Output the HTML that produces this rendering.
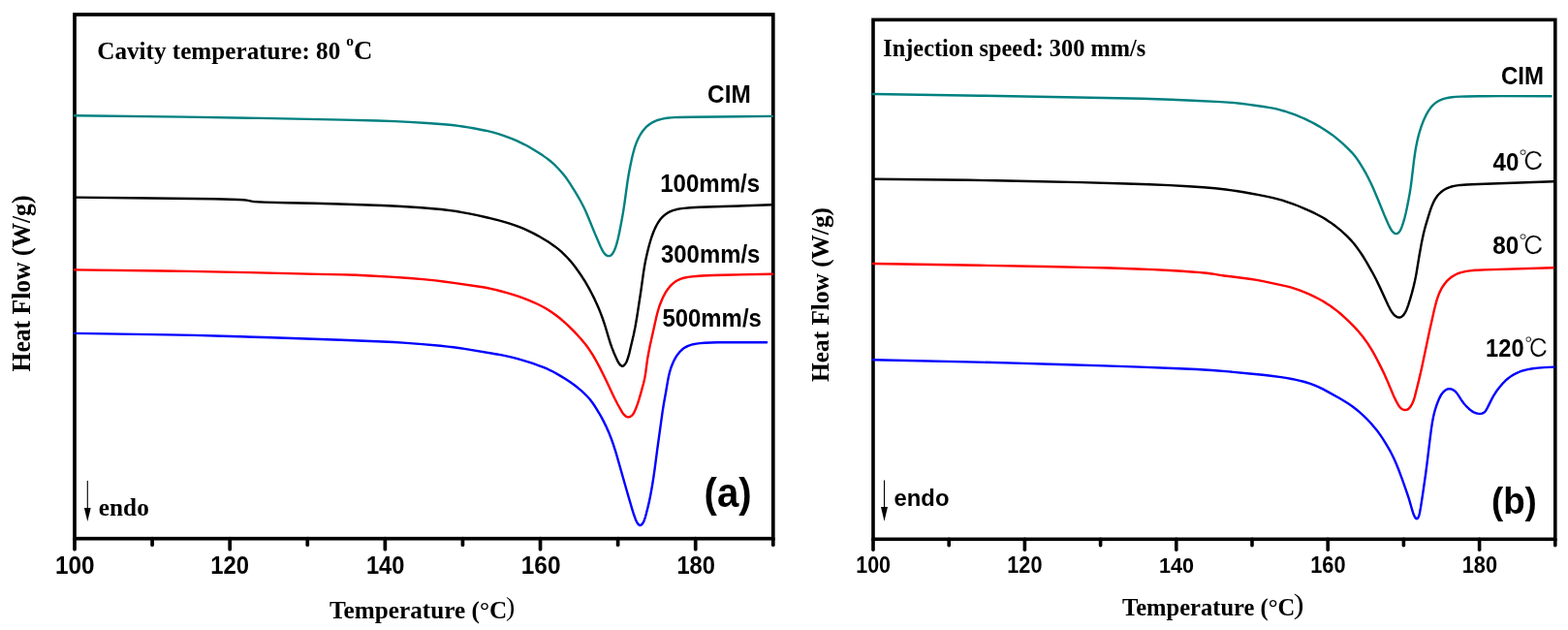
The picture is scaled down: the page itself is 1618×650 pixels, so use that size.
<!DOCTYPE html>
<html><head><meta charset="utf-8"><title>DSC curves</title>
<style>html,body{margin:0;padding:0;background:#fff;}svg{display:block;}</style>
</head><body>
<svg width="1618" height="650" viewBox="0 0 1618 650">
<rect x="77.00" y="15.00" width="720.80" height="540.70" fill="none" stroke="#000" stroke-width="3.70"/>
<line x1="77.00" y1="555.70" x2="77.00" y2="566.70" stroke="#000" stroke-width="3.70" stroke-linecap="round"/>
<line x1="157.09" y1="555.70" x2="157.09" y2="562.20" stroke="#000" stroke-width="3.70" stroke-linecap="round"/>
<line x1="237.18" y1="555.70" x2="237.18" y2="566.70" stroke="#000" stroke-width="3.70" stroke-linecap="round"/>
<line x1="317.27" y1="555.70" x2="317.27" y2="562.20" stroke="#000" stroke-width="3.70" stroke-linecap="round"/>
<line x1="397.36" y1="555.70" x2="397.36" y2="566.70" stroke="#000" stroke-width="3.70" stroke-linecap="round"/>
<line x1="477.45" y1="555.70" x2="477.45" y2="562.20" stroke="#000" stroke-width="3.70" stroke-linecap="round"/>
<line x1="557.54" y1="555.70" x2="557.54" y2="566.70" stroke="#000" stroke-width="3.70" stroke-linecap="round"/>
<line x1="637.63" y1="555.70" x2="637.63" y2="562.20" stroke="#000" stroke-width="3.70" stroke-linecap="round"/>
<line x1="717.72" y1="555.70" x2="717.72" y2="566.70" stroke="#000" stroke-width="3.70" stroke-linecap="round"/>
<line x1="797.81" y1="555.70" x2="797.81" y2="562.20" stroke="#000" stroke-width="3.70" stroke-linecap="round"/>
<rect x="901.00" y="20.40" width="703.80" height="535.90" fill="none" stroke="#000" stroke-width="3.60"/>
<line x1="901.00" y1="556.30" x2="901.00" y2="567.30" stroke="#000" stroke-width="3.60" stroke-linecap="round"/>
<line x1="979.20" y1="556.30" x2="979.20" y2="562.80" stroke="#000" stroke-width="3.60" stroke-linecap="round"/>
<line x1="1057.40" y1="556.30" x2="1057.40" y2="567.30" stroke="#000" stroke-width="3.60" stroke-linecap="round"/>
<line x1="1135.60" y1="556.30" x2="1135.60" y2="562.80" stroke="#000" stroke-width="3.60" stroke-linecap="round"/>
<line x1="1213.80" y1="556.30" x2="1213.80" y2="567.30" stroke="#000" stroke-width="3.60" stroke-linecap="round"/>
<line x1="1292.00" y1="556.30" x2="1292.00" y2="562.80" stroke="#000" stroke-width="3.60" stroke-linecap="round"/>
<line x1="1370.20" y1="556.30" x2="1370.20" y2="567.30" stroke="#000" stroke-width="3.60" stroke-linecap="round"/>
<line x1="1448.40" y1="556.30" x2="1448.40" y2="562.80" stroke="#000" stroke-width="3.60" stroke-linecap="round"/>
<line x1="1526.60" y1="556.30" x2="1526.60" y2="567.30" stroke="#000" stroke-width="3.60" stroke-linecap="round"/>
<line x1="1604.80" y1="556.30" x2="1604.80" y2="562.80" stroke="#000" stroke-width="3.60" stroke-linecap="round"/>
<path d="M77.00,119.20 190.49,120.64 267.73,121.91 353.96,123.60 389.20,124.55 407.19,125.16 422.17,125.88 440.64,127.01 457.59,128.25 463.57,128.77 468.54,129.27 473.01,129.82 477.46,130.46 482.89,131.32 488.31,132.27 500.83,134.70 505.22,135.66 509.10,136.62 513.42,137.84 517.93,139.31 522.87,141.09 528.22,143.18 533.06,145.21 537.16,147.06 541.19,149.06 545.37,151.30 550.34,154.18 555.23,157.21 560.02,160.37 564.31,163.39 567.67,165.98 570.51,168.40 573.22,170.97 576.17,174.01 578.85,176.98 581.27,179.83 583.43,182.57 585.48,185.40 587.86,188.91 590.83,193.54 593.98,198.65 596.64,203.17 599.09,207.52 601.33,211.71 603.12,215.28 604.71,218.67 607.16,224.41 613.74,240.63 619.69,254.40 620.96,257.11 621.93,258.86 622.86,260.34 623.74,261.55 624.57,262.47 625.52,263.27 626.37,263.76 627.29,264.07 628.01,264.16 628.72,264.09 629.42,263.88 630.08,263.56 630.69,263.14 631.24,262.65 631.75,262.10 632.34,261.31 632.86,260.46 634.18,257.77 635.27,254.98 636.38,251.40 637.58,246.81 638.78,241.44 640.07,235.07 641.64,226.72 643.02,218.84 644.44,209.70 647.37,188.40 648.26,182.72 649.20,177.30 650.53,170.43 651.99,163.59 653.34,158.00 654.67,153.19 655.90,149.39 657.24,145.91 658.78,142.51 660.43,139.45 662.28,136.52 664.20,133.94 666.15,131.73 668.30,129.72 670.63,127.93 673.13,126.38 675.78,125.06 678.53,123.98 681.61,123.06 684.75,122.36 688.44,121.79 692.41,121.40 696.14,121.17 700.39,121.00 714.39,120.74 796.88,119.90" fill="none" stroke="#008080" stroke-width="2.40" stroke-linejoin="round" stroke-linecap="round"/>
<path d="M77.00,203.60 135.00,204.19 200.24,204.94 221.24,205.28 238.98,205.73 246.48,205.99 251.47,206.30 254.70,206.66 259.60,207.60 262.08,207.94 266.31,208.29 272.31,208.59 296.04,209.30 324.04,209.76 350.28,210.46 394.51,211.98 405.50,212.45 414.98,212.96 434.69,214.28 449.14,215.45 455.36,216.06 461.07,216.69 466.28,217.36 470.98,218.05 476.89,219.06 484.01,220.42 492.58,222.20 501.86,224.24 507.70,225.61 513.75,227.16 520.02,228.86 525.06,230.33 530.28,232.05 535.20,233.86 540.29,235.93 545.08,238.09 550.23,240.63 555.30,243.33 560.28,246.20 565.39,249.34 569.35,251.95 572.81,254.41 575.95,256.86 578.98,259.46 582.25,262.54 585.39,265.75 588.40,269.09 591.26,272.55 594.14,276.32 597.50,280.99 600.60,285.53 603.29,289.73 605.72,293.81 608.16,298.18 610.84,303.26 613.42,308.40 615.64,313.15 617.64,317.73 619.61,322.60 621.45,327.51 623.01,331.99 624.56,336.75 628.40,349.68 629.67,353.73 631.49,358.92 633.60,364.27 636.65,371.12 637.53,372.91 638.28,374.21 639.46,375.82 640.64,377.09 641.43,377.62 641.85,377.77 642.29,377.81 642.94,377.68 643.54,377.33 644.09,376.84 644.73,376.09 645.59,374.87 646.23,373.80 646.76,372.67 647.31,371.27 648.47,367.71 649.46,364.10 653.69,346.09 655.50,337.28 657.27,326.93 661.31,300.49 664.06,280.93 665.11,274.26 665.98,269.60 667.02,264.71 668.32,259.11 669.68,253.78 671.17,248.49 672.61,243.97 674.15,239.75 675.79,235.85 677.44,232.50 679.18,229.50 681.00,226.86 682.07,225.51 683.05,224.41 685.15,222.37 687.27,220.72 688.49,219.91 689.75,219.18 692.39,217.90 695.16,216.89 698.26,216.04 701.67,215.37 705.62,214.83 712.58,214.22 721.57,213.76 754.05,212.78 796.78,211.31" fill="none" stroke="#000" stroke-width="2.40" stroke-linejoin="round" stroke-linecap="round"/>
<path d="M77.00,278.40 167.99,279.51 193.99,279.90 218.74,280.36 256.73,281.17 328.21,282.85 354.45,283.41 367.20,283.81 381.18,284.44 402.40,285.62 422.60,286.97 436.56,288.10 448.99,289.41 457.67,290.48 468.08,291.88 498.26,296.27 502.44,297.01 506.35,297.81 510.97,298.90 516.30,300.27 523.04,302.13 529.03,303.91 534.51,305.67 539.46,307.40 544.59,309.37 549.89,311.59 554.67,313.76 559.14,315.99 562.85,318.03 566.48,320.23 570.22,322.73 574.06,325.51 577.59,328.29 581.22,331.35 584.92,334.70 588.71,338.33 592.06,341.70 595.34,345.13 598.38,348.45 601.17,351.65 603.54,354.55 605.68,357.31 607.72,360.15 609.66,363.05 611.78,366.44 614.06,370.31 616.25,374.24 618.59,378.66 622.43,386.24 625.86,393.19 632.28,407.02 634.34,411.30 637.46,417.28 640.90,423.38 642.04,425.32 642.86,426.57 643.46,427.36 644.33,428.25 645.48,429.20 646.53,429.86 647.44,430.21 648.40,430.35 649.11,430.28 650.04,429.98 650.91,429.51 651.72,428.94 652.46,428.27 653.12,427.53 653.69,426.72 654.29,425.63 655.03,424.05 656.20,421.29 657.87,416.84 659.47,411.84 661.55,404.64 664.09,395.23 664.84,392.08 665.45,389.15 666.26,384.22 667.55,374.31 668.25,369.62 669.25,363.96 670.53,357.59 677.24,327.33 678.65,321.76 680.09,316.98 681.32,313.45 682.71,309.97 684.26,306.57 685.86,303.48 687.51,300.70 689.18,298.24 691.01,295.92 692.85,293.93 694.85,292.13 697.01,290.53 699.10,289.28 701.52,288.13 704.06,287.22 706.91,286.45 710.08,285.85 713.78,285.37 718.25,284.97 724.24,284.56 730.23,284.24 736.47,284.00 746.47,283.74 796.96,282.70" fill="none" stroke="#f00" stroke-width="2.40" stroke-linejoin="round" stroke-linecap="round"/>
<path d="M77.00,343.90 172.74,345.34 200.23,345.92 229.97,346.70 279.70,348.24 351.91,350.70 395.12,352.48 406.36,353.03 416.09,353.61 435.78,355.09 454.46,356.78 461.92,357.57 467.87,358.28 473.32,359.02 479.25,359.92 512.80,365.46 517.96,366.39 522.62,367.33 529.19,368.85 535.71,370.57 542.42,372.56 549.79,374.96 555.69,377.03 560.59,378.89 564.96,380.73 568.80,382.54 572.99,384.75 577.97,387.62 583.52,391.00 588.11,394.01 591.98,396.76 595.93,399.82 599.94,403.20 603.62,406.57 606.24,409.22 608.71,412.02 611.00,414.96 613.27,418.24 615.68,422.03 618.38,426.53 620.71,430.67 622.93,434.86 625.04,439.12 626.91,443.20 628.68,447.34 630.43,451.75 633.13,459.28 635.70,467.38 647.04,507.29 652.09,524.57 654.09,531.02 655.88,535.95 656.57,537.56 657.26,538.89 658.20,540.36 658.99,541.30 659.73,541.85 660.37,542.01 660.80,541.98 661.44,541.74 662.03,541.33 662.73,540.64 663.18,540.05 663.70,539.20 664.14,538.31 664.72,536.93 665.69,534.09 666.84,530.00 668.56,523.22 669.91,517.37 670.93,512.48 672.08,506.34 673.14,500.18 674.24,493.27 675.54,484.36 678.18,464.03 683.51,425.65 684.91,416.76 687.07,404.71 689.35,391.41 690.16,387.50 691.06,383.87 692.05,380.52 693.12,377.47 694.34,374.47 695.72,371.55 697.15,368.94 698.74,366.44 700.68,363.90 702.69,361.75 703.77,360.77 704.90,359.85 707.11,358.35 709.47,357.11 710.82,356.54 712.19,356.04 715.27,355.20 718.68,354.58 722.38,354.15 727.11,353.80 733.35,353.52 740.60,353.32 755.35,353.19 791.10,353.20" fill="none" stroke="#00f" stroke-width="2.40" stroke-linejoin="round" stroke-linecap="round"/>
<path d="M901.00,97.00 1011.49,98.70 1111.97,100.45 1178.96,101.82 1193.70,102.21 1208.19,102.72 1230.92,103.71 1259.64,105.14 1267.12,105.59 1273.85,106.14 1279.82,106.76 1286.77,107.61 1294.69,108.69 1303.59,110.00 1309.02,110.87 1313.45,111.67 1317.11,112.44 1320.75,113.33 1325.54,114.73 1331.23,116.61 1337.11,118.73 1342.21,120.77 1347.00,122.90 1351.95,125.31 1356.81,127.87 1361.59,130.59 1366.28,133.44 1370.47,136.17 1374.35,138.90 1377.92,141.63 1381.76,144.82 1385.87,148.47 1390.78,153.09 1394.29,156.63 1396.45,159.04 1398.49,161.55 1400.41,164.15 1402.52,167.25 1404.78,170.84 1407.33,175.14 1409.90,179.71 1412.11,183.91 1414.76,189.29 1417.45,195.21 1422.00,206.04 1429.38,224.08 1432.43,230.93 1433.71,233.65 1434.62,235.43 1435.37,236.72 1436.21,237.96 1436.99,238.94 1437.68,239.65 1438.45,240.27 1439.30,240.77 1439.98,241.02 1440.68,241.12 1441.39,241.04 1442.06,240.80 1442.69,240.42 1443.25,239.95 1443.76,239.41 1444.35,238.61 1444.99,237.54 1445.55,236.43 1446.77,233.42 1448.19,229.15 1449.49,224.58 1450.67,219.73 1451.89,214.11 1453.29,207.00 1454.51,200.36 1455.41,194.93 1456.43,187.51 1459.04,165.66 1459.90,159.47 1460.75,154.04 1461.65,149.13 1462.58,144.73 1463.63,140.36 1464.83,136.02 1466.41,131.02 1468.04,126.57 1469.88,122.20 1471.73,118.40 1473.69,114.94 1475.62,112.06 1477.62,109.57 1478.80,108.33 1479.86,107.33 1481.95,105.67 1484.21,104.25 1486.62,103.07 1489.14,102.12 1491.99,101.32 1494.90,100.74 1498.35,100.26 1502.32,99.92 1507.06,99.66 1513.56,99.46 1530.55,99.19 1548.80,99.14 1600.55,99.20" fill="none" stroke="#008080" stroke-width="2.40" stroke-linejoin="round" stroke-linecap="round"/>
<path d="M901.00,184.70 998.99,185.81 1026.99,186.26 1061.48,186.94 1114.97,188.17 1162.20,189.45 1185.69,190.21 1206.67,191.15 1226.39,192.21 1241.61,193.21 1253.81,194.26 1264.74,195.49 1270.94,196.32 1277.12,197.25 1283.28,198.26 1290.18,199.48 1299.02,201.15 1307.85,202.91 1313.46,204.13 1318.31,205.32 1323.12,206.69 1328.11,208.29 1334.01,210.36 1339.61,212.50 1345.15,214.80 1351.54,217.64 1356.97,220.20 1361.41,222.48 1365.12,224.55 1368.95,226.89 1372.70,229.38 1376.35,231.99 1379.71,234.58 1383.18,237.45 1386.73,240.59 1390.00,243.68 1392.63,246.34 1394.99,248.91 1397.24,251.58 1399.69,254.73 1402.35,258.36 1405.04,262.27 1407.61,266.26 1410.07,270.32 1415.75,280.31 1419.85,288.04 1423.88,296.36 1432.55,315.21 1434.24,318.55 1435.90,321.35 1436.87,322.80 1437.78,323.99 1438.62,324.91 1439.55,325.73 1440.78,326.58 1441.88,327.15 1442.81,327.46 1443.78,327.56 1444.26,327.53 1444.97,327.37 1445.65,327.09 1446.30,326.73 1446.91,326.31 1447.67,325.66 1448.81,324.35 1450.00,322.45 1451.12,320.22 1452.07,317.91 1453.30,314.37 1455.11,308.65 1456.90,302.40 1458.65,295.63 1460.01,289.79 1460.82,285.87 1461.55,281.94 1464.53,263.69 1466.81,251.14 1467.95,245.51 1468.97,240.87 1469.99,236.75 1471.12,232.66 1474.12,222.60 1475.69,217.60 1477.19,213.37 1478.61,209.92 1479.47,208.13 1480.39,206.38 1481.27,204.90 1482.23,203.46 1483.25,202.09 1484.35,200.78 1485.53,199.54 1486.60,198.54 1488.50,197.00 1490.75,195.53 1492.90,194.38 1495.39,193.33 1497.96,192.49 1500.60,191.85 1503.53,191.34 1506.99,190.93 1513.46,190.48 1525.20,189.98 1602.91,187.30" fill="none" stroke="#000" stroke-width="2.40" stroke-linejoin="round" stroke-linecap="round"/>
<path d="M901.00,272.00 1010.99,273.77 1077.72,275.03 1118.71,275.89 1145.46,276.57 1173.19,277.44 1189.93,278.12 1207.15,279.03 1219.63,279.77 1229.86,280.46 1238.33,281.12 1245.05,281.76 1250.51,282.44 1258.89,283.84 1263.10,284.46 1289.14,287.74 1296.80,288.93 1304.41,290.36 1325.42,294.91 1328.82,295.70 1331.72,296.46 1336.26,297.82 1340.74,299.38 1345.86,301.39 1351.14,303.65 1355.89,305.87 1360.13,308.02 1364.28,310.31 1368.56,312.89 1372.32,315.34 1376.00,317.93 1379.57,320.66 1383.04,323.51 1386.79,326.81 1390.63,330.39 1394.92,334.59 1398.56,338.36 1401.25,341.32 1403.67,344.17 1406.16,347.30 1408.70,350.70 1411.14,354.17 1413.34,357.51 1415.45,360.91 1417.57,364.58 1419.71,368.54 1422.36,373.64 1425.52,379.89 1427.82,384.60 1431.12,391.89 1436.43,404.57 1438.44,409.15 1440.73,413.87 1442.90,417.80 1443.71,419.06 1444.46,420.05 1445.13,420.79 1446.08,421.60 1447.13,422.24 1448.04,422.62 1449.00,422.85 1449.99,422.93 1450.73,422.90 1451.46,422.78 1452.61,422.37 1453.64,421.70 1454.68,420.65 1455.84,419.02 1457.07,416.85 1458.11,414.58 1458.98,412.24 1459.77,409.61 1460.72,405.99 1463.74,393.86 1465.94,384.62 1467.77,376.32 1474.76,343.05 1479.79,320.61 1481.09,315.27 1482.25,310.92 1483.35,307.35 1484.53,304.07 1485.79,301.09 1487.23,298.21 1488.86,295.44 1490.56,293.00 1492.42,290.70 1494.30,288.75 1496.51,286.80 1498.70,285.22 1501.23,283.72 1503.90,282.46 1506.67,281.44 1509.77,280.57 1513.17,279.88 1516.87,279.36 1519.85,279.06 1523.09,278.82 1531.83,278.41 1602.79,276.21" fill="none" stroke="#f00" stroke-width="2.40" stroke-linejoin="round" stroke-linecap="round"/>
<path d="M901.00,371.20 1008.97,373.63 1047.46,374.64 1092.94,375.94 1138.92,377.34 1176.15,378.59 1216.62,380.21 1234.35,381.03 1250.57,382.02 1268.01,383.41 1292.15,385.69 1302.85,386.79 1311.29,387.74 1321.95,389.15 1326.89,389.92 1331.56,390.74 1336.22,391.65 1340.37,392.56 1344.26,393.51 1347.87,394.50 1352.15,395.86 1356.12,397.34 1360.25,399.10 1364.52,401.16 1370.48,404.33 1382.49,411.02 1387.43,413.95 1391.84,416.79 1395.73,419.50 1399.32,422.21 1402.78,425.07 1406.13,428.06 1409.55,431.35 1412.84,434.77 1416.35,438.67 1419.56,442.49 1422.17,445.84 1424.51,449.08 1427.01,452.81 1429.67,457.04 1432.36,461.55 1434.67,465.69 1436.74,469.68 1438.68,473.74 1440.88,478.78 1443.28,484.81 1446.69,493.95 1449.97,503.13 1452.17,509.51 1453.95,514.98 1455.25,519.28 1457.41,526.99 1458.51,530.30 1459.41,532.36 1460.40,534.09 1460.84,534.65 1461.17,534.95 1461.52,535.14 1461.90,535.19 1462.47,535.01 1462.82,534.74 1463.13,534.40 1463.64,533.57 1464.03,532.66 1464.54,530.99 1465.00,529.04 1465.98,523.63 1467.98,510.78 1471.19,488.52 1472.63,477.36 1475.34,454.77 1476.96,442.38 1477.94,435.95 1478.95,430.56 1479.84,426.66 1480.95,422.56 1482.16,418.76 1483.44,415.24 1484.99,411.55 1486.41,408.64 1487.56,406.71 1488.94,404.94 1490.35,403.53 1491.71,402.44 1493.00,401.69 1494.15,401.27 1495.37,401.13 1496.60,401.26 1498.03,401.67 1499.61,402.40 1500.47,402.91 1501.45,403.67 1502.34,404.54 1503.31,405.67 1505.06,408.10 1507.43,411.92 1508.53,413.58 1510.16,415.77 1511.42,417.32 1512.75,418.80 1514.16,420.22 1515.81,421.75 1517.32,423.05 1518.71,424.12 1520.17,425.06 1521.51,425.73 1522.92,426.23 1524.61,426.64 1526.10,426.84 1527.59,426.84 1529.06,426.64 1530.24,426.26 1531.32,425.67 1532.26,424.87 1533.17,423.70 1534.65,421.10 1539.14,412.16 1541.18,408.44 1542.47,406.30 1543.97,404.00 1545.26,402.17 1546.77,400.19 1550.14,396.18 1551.67,394.55 1553.26,392.98 1554.91,391.48 1556.43,390.21 1558.21,388.87 1559.85,387.76 1561.76,386.60 1563.72,385.55 1565.74,384.60 1567.80,383.74 1569.90,382.98 1572.27,382.23 1574.43,381.65 1576.86,381.10 1581.52,380.29 1586.98,379.65 1593.45,379.16 1603.69,378.61" fill="none" stroke="#00f" stroke-width="2.40" stroke-linejoin="round" stroke-linecap="round"/>
<text transform="translate(100.29,61.00) scale(0.9675,1)" style="font-family:'Liberation Serif','Times New Roman',serif;font-weight:bold;font-size:26.00px">Cavity temperature: 80</text>
<text transform="translate(357.30,46.90)" style="font-family:'Liberation Serif','Times New Roman',serif;font-weight:bold;font-size:15.60px">o</text>
<text transform="translate(365.07,61.00) scale(1.0222,1)" style="font-family:'Liberation Serif','Times New Roman',serif;font-weight:bold;font-size:26.30px">C</text>
<text transform="translate(730.07,105.90) scale(0.9275,1)" style="font-family:'Liberation Sans',Arial,sans-serif;font-weight:bold;font-size:26.30px">CIM</text>
<text transform="translate(681.24,198.00) scale(0.9148,1)" style="font-family:'Liberation Sans',Arial,sans-serif;font-weight:bold;font-size:26.30px">100mm/s</text>
<text transform="translate(682.01,270.90) scale(0.9102,1)" style="font-family:'Liberation Sans',Arial,sans-serif;font-weight:bold;font-size:26.30px">300mm/s</text>
<text transform="translate(683.44,336.60) scale(0.9104,1)" style="font-family:'Liberation Sans',Arial,sans-serif;font-weight:bold;font-size:26.30px">500mm/s</text>
<text transform="translate(726.52,522.80) scale(0.9656,1)" style="font-family:'Liberation Sans',Arial,sans-serif;font-weight:bold;font-size:41.60px">(a)</text>
<text transform="translate(101.85,532.10) scale(1.0020,1)" style="font-family:'Liberation Serif','Times New Roman',serif;font-weight:bold;font-size:25.20px">endo</text>
<text transform="translate(340.06,637.70) scale(0.9784,1)" style="font-family:'Liberation Serif','Times New Roman',serif;font-weight:bold;font-size:25.80px">Temperature (°C</text>
<text transform="translate(521.91,635.20) scale(0.9931,1)" style="font-family:'Liberation Serif','Times New Roman',serif;font-weight:normal;font-size:28.20px">)</text>
<text transform="translate(30.80,383.43) rotate(-90) scale(0.9550,1)" style="font-family:'Liberation Serif','Times New Roman',serif;font-weight:bold;font-size:26.80px">Heat Flow (W/g)</text>
<text transform="translate(56.92,592.00) scale(0.9261,1)" style="font-family:'Liberation Sans',Arial,sans-serif;font-weight:bold;font-size:26.30px">100</text>
<text transform="translate(217.26,592.00) scale(0.9073,1)" style="font-family:'Liberation Sans',Arial,sans-serif;font-weight:bold;font-size:26.30px">120</text>
<text transform="translate(377.92,592.00) scale(0.9024,1)" style="font-family:'Liberation Sans',Arial,sans-serif;font-weight:bold;font-size:26.30px">140</text>
<text transform="translate(537.72,592.00) scale(0.9293,1)" style="font-family:'Liberation Sans',Arial,sans-serif;font-weight:bold;font-size:26.30px">160</text>
<text transform="translate(698.42,592.00) scale(0.9024,1)" style="font-family:'Liberation Sans',Arial,sans-serif;font-weight:bold;font-size:26.30px">180</text>
<text transform="translate(911.28,58.40) scale(0.9542,1)" style="font-family:'Liberation Serif','Times New Roman',serif;font-weight:bold;font-size:25.50px">Injection speed: 300 mm/s</text>
<text transform="translate(1548.88,86.80) scale(0.9274,1)" style="font-family:'Liberation Sans',Arial,sans-serif;font-weight:bold;font-size:25.90px">CIM</text>
<text transform="translate(1540.52,175.70) scale(0.9509,1)" style="font-family:'Liberation Sans',Arial,sans-serif;font-weight:bold;font-size:25.30px">40</text>
<text transform="translate(1567.17,176.40) scale(1.0202,1)" style="font-family:'Liberation Serif','IPAGothic','Noto Serif CJK SC',serif;font-weight:normal;stroke:#fff;stroke-width:0.25px;font-size:26.50px">℃</text>
<text transform="translate(1540.28,261.90) scale(0.9600,1)" style="font-family:'Liberation Sans',Arial,sans-serif;font-weight:bold;font-size:25.30px">80</text>
<text transform="translate(1567.17,262.60) scale(1.0202,1)" style="font-family:'Liberation Serif','IPAGothic','Noto Serif CJK SC',serif;font-weight:normal;stroke:#fff;stroke-width:0.25px;font-size:26.50px">℃</text>
<text transform="translate(1533.09,368.00) scale(0.9168,1)" style="font-family:'Liberation Sans',Arial,sans-serif;font-weight:bold;font-size:25.80px">120</text>
<text transform="translate(1573.25,368.90) scale(0.9618,1)" style="font-family:'Liberation Serif','IPAGothic','Noto Serif CJK SC',serif;font-weight:normal;stroke:#fff;stroke-width:0.25px;font-size:26.50px">℃</text>
<text transform="translate(1538.93,530.40) scale(0.9609,1)" style="font-family:'Liberation Sans',Arial,sans-serif;font-weight:bold;font-size:38.20px">(b)</text>
<text transform="translate(922.52,522.20) scale(0.9778,1)" style="font-family:'Liberation Sans',Arial,sans-serif;font-weight:bold;font-size:24.40px">endo</text>
<text transform="translate(1158.06,635.10) scale(0.9631,1)" style="font-family:'Liberation Serif','Times New Roman',serif;font-weight:bold;font-size:25.50px">Temperature (°C</text>
<text transform="translate(1334.73,632.90) scale(1.1310,1)" style="font-family:'Liberation Serif','Times New Roman',serif;font-weight:normal;font-size:28.60px">)</text>
<text transform="translate(855.40,393.94) rotate(-90) scale(0.9816,1)" style="font-family:'Liberation Serif','Times New Roman',serif;font-weight:bold;font-size:25.80px">Heat Flow (W/g)</text>
<text transform="translate(883.25,590.50) scale(0.9333,1)" style="font-family:'Liberation Sans',Arial,sans-serif;font-weight:bold;font-size:23.00px">100</text>
<text transform="translate(1039.24,590.50) scale(0.9444,1)" style="font-family:'Liberation Sans',Arial,sans-serif;font-weight:bold;font-size:23.00px">120</text>
<text transform="translate(1195.93,590.50) scale(0.9417,1)" style="font-family:'Liberation Sans',Arial,sans-serif;font-weight:bold;font-size:23.00px">140</text>
<text transform="translate(1352.24,590.50) scale(0.9444,1)" style="font-family:'Liberation Sans',Arial,sans-serif;font-weight:bold;font-size:23.00px">160</text>
<text transform="translate(1508.73,590.50) scale(0.9472,1)" style="font-family:'Liberation Sans',Arial,sans-serif;font-weight:bold;font-size:23.00px">180</text>
<line x1="90.3" y1="496" x2="90.3" y2="526" stroke="#000" stroke-width="1.1"/>
<path d="M86.9,524 L93.7,524 L90.3,538 Z" fill="#000"/>
<line x1="912.5" y1="495.5" x2="912.5" y2="525" stroke="#000" stroke-width="1.1"/>
<path d="M909,523 L916,523 L912.5,537.8 Z" fill="#000"/>
</svg>
</body></html>
